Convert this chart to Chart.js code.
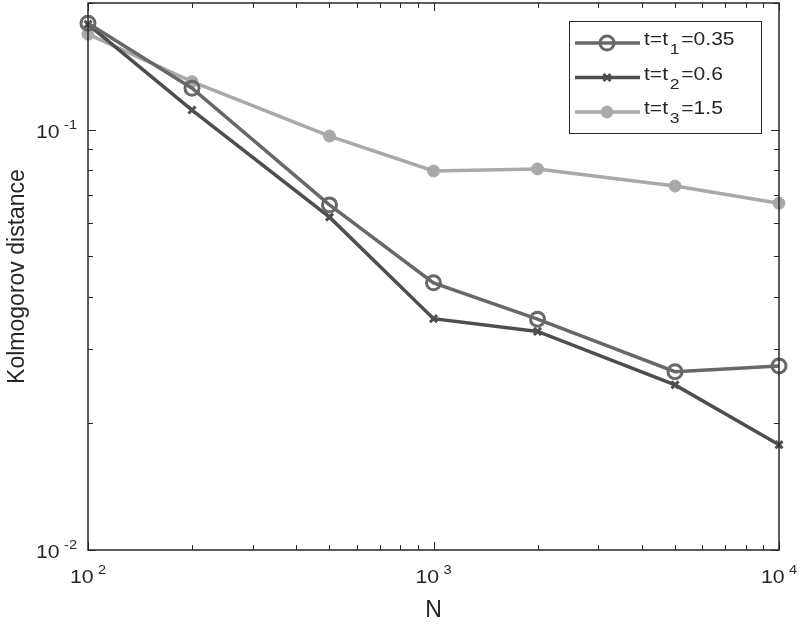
<!DOCTYPE html>
<html>
<head>
<meta charset="utf-8">
<script src="https://cdn.jsdelivr.net/npm/chart.js@4"></script>
<style>
  html, body { margin: 0; padding: 0; background: #fff; }
  #wrap { width: 800px; height: 625px; }
</style>
</head>
<body>
<div id="wrap"><canvas id="chart" width="800" height="625"></canvas></div>
<script>
// sample sizes and Kolmogorov distances
const nValues = [100, 200, 500, 1000, 2000, 5000, 10000]
const distT1 = [0.179, 0.1254, 0.0662, 0.0432, 0.0354, 0.02655, 0.0274]
const distT2 = [0.178, 0.1113, 0.0619, 0.0355, 0.0331, 0.0247, 0.0178]
const distT3 = [0.1686, 0.130, 0.0965, 0.0797, 0.0806, 0.0734, 0.0668]
const legendLabels = ["t=t_1=0.35", "t=t_2=0.6", "t=t_3=1.5"]
const xTickPowers = [2, 3, 4]
const yTickPowers = [-2, -1]

const FONT = "'Liberation Sans', Arial, Helvetica, sans-serif"
const INK = "#262626"

const toPoints = (ys) => nValues.map((n, i) => ({ x: n, y: ys[i] }))

// "10" with a raised exponent (slightly widened, as in the original)
function drawPower(ctx, exp, x, y, align) {
  const base = "10", sup = String(exp)
  const sx = 1.12
  ctx.font = "19px " + FONT
  const wb = ctx.measureText(base).width
  ctx.font = "13px " + FONT
  const ws = ctx.measureText(sup).width
  const gap = 4
  const total = (wb + gap + ws) * sx
  let x0 = x
  if (align === "right") x0 = x - total
  else if (align === "center") x0 = x - total / 2
  ctx.save()
  ctx.translate(x0, y)
  ctx.scale(sx, 1)
  ctx.fillStyle = INK
  ctx.textAlign = "left"
  ctx.textBaseline = "alphabetic"
  ctx.font = "19px " + FONT
  ctx.fillText(base, 0, 0)
  ctx.font = "13px " + FONT
  ctx.fillText(sup, wb + gap, -9)
  ctx.restore()
}

// legend text with "_n" as subscript, a bit wider like the original
function drawSubText(ctx, label, x, y) {
  const m = label.match(/^(.*)_(\w)(.*)$/)
  ctx.save()
  ctx.translate(x, y)
  ctx.scale(1.17, 1)
  ctx.fillStyle = INK
  ctx.textAlign = "left"
  ctx.textBaseline = "alphabetic"
  ctx.font = "18px " + FONT
  if (!m) { ctx.fillText(label, 0, 0); ctx.restore(); return }
  ctx.fillText(m[1], 0, 0)
  let cx = ctx.measureText(m[1]).width + 1.5
  ctx.font = "15px " + FONT
  ctx.fillText(m[2], cx, 9)
  cx += ctx.measureText(m[2]).width + 1.5
  ctx.font = "18px " + FONT
  ctx.fillText(m[3], cx, 0)
  ctx.restore()
}

const matlabFrame = {
  id: "matlabFrame",
  afterDraw(chart) {
    const { ctx, chartArea: a, scales } = chart
    const xs = scales.x, ys = scales.y
    ctx.save()

    // box
    ctx.strokeStyle = INK
    ctx.lineWidth = 1.5
    ctx.strokeRect(a.left, a.top, a.right - a.left, a.bottom - a.top)

    // inward ticks, x
    ctx.lineWidth = 1
    ctx.beginPath()
    for (let p = xTickPowers[0]; p <= xTickPowers[xTickPowers.length - 1]; p++) {
      for (let k = 1; k <= 9; k++) {
        const v = k * Math.pow(10, p)
        if (v < xs.min || v > xs.max) continue
        const px = Math.round(xs.getPixelForValue(v)) + 0.5
        const len = k === 1 ? 8 : 5
        ctx.moveTo(px, a.bottom); ctx.lineTo(px, a.bottom - len)
        ctx.moveTo(px, a.top); ctx.lineTo(px, a.top + len)
      }
    }
    // inward ticks, y
    for (let p = yTickPowers[0]; p <= yTickPowers[yTickPowers.length - 1]; p++) {
      for (let k = 1; k <= 9; k++) {
        const v = k * Math.pow(10, p)
        if (v < ys.min - 1e-9 || v > ys.max + 1e-9) continue
        const py = Math.round(ys.getPixelForValue(v)) + 0.5
        const len = k === 1 ? 8 : 5
        ctx.moveTo(a.left, py); ctx.lineTo(a.left + len, py)
        ctx.moveTo(a.right, py); ctx.lineTo(a.right - len, py)
      }
    }
    ctx.stroke()

    // tick labels
    xTickPowers.forEach((p) => {
      drawPower(ctx, p, xs.getPixelForValue(Math.pow(10, p)), a.bottom + 33, "center")
    })
    yTickPowers.forEach((p) => {
      drawPower(ctx, p, a.left - 11, ys.getPixelForValue(Math.pow(10, p)) + 8, "right")
    })

    // axis titles
    ctx.fillStyle = INK
    ctx.font = "23px " + FONT
    ctx.textAlign = "center"
    ctx.textBaseline = "alphabetic"
    ctx.fillText("N", (a.left + a.right) / 2, 617)
    ctx.save()
    ctx.translate(24, (a.top + a.bottom) / 2)
    ctx.rotate(-Math.PI / 2)
    ctx.fillText("Kolmogorov distance", 0, 0)
    ctx.restore()

    // legend
    const lx = 569, ly = 21, lw = 192, lh = 112
    ctx.fillStyle = "#fff"
    ctx.fillRect(lx, ly, lw, lh)
    ctx.strokeStyle = INK
    ctx.lineWidth = 1
    ctx.strokeRect(lx + 0.5, ly + 0.5, lw, lh)
    chart.data.datasets.forEach((ds, i) => {
      const y = 43 + i * 34.5
      ctx.strokeStyle = ds.borderColor
      ctx.lineWidth = ds.borderWidth
      ctx.beginPath()
      ctx.moveTo(575, y); ctx.lineTo(640, y)
      ctx.stroke()
      ctx.fillStyle = ds.pointBackgroundColor
      ctx.strokeStyle = ds.pointBorderColor
      ctx.lineWidth = ds.pointBorderWidth
      Chart.helpers.drawPoint(ctx, {
        pointStyle: ds.pointStyle,
        radius: ds.pointRadius,
        borderWidth: ds.pointBorderWidth
      }, 607, y)
      drawSubText(ctx, legendLabels[i], 644, y + 2)
    })
    ctx.restore()
  }
}

new Chart(document.getElementById("chart"), {
  type: "line",
  data: {
    datasets: [
      {
        label: legendLabels[0],
        data: toPoints(distT1),
        borderColor: "#686868",
        borderWidth: 3.5,
        pointStyle: "circle",
        pointRadius: 7,
        pointBorderWidth: 3,
        pointBorderColor: "#686868",
        pointBackgroundColor: "rgba(0,0,0,0)",
        clip: false
      },
      {
        label: legendLabels[1],
        data: toPoints(distT2),
        borderColor: "#4e4e4e",
        borderWidth: 3.5,
        pointStyle: "crossRot",
        pointRadius: 5,
        pointBorderWidth: 3,
        pointBorderColor: "#4e4e4e",
        pointBackgroundColor: "#4e4e4e",
        clip: false
      },
      {
        label: legendLabels[2],
        data: toPoints(distT3),
        borderColor: "#a9a9a9",
        borderWidth: 3.5,
        pointStyle: "circle",
        pointRadius: 6,
        pointBorderWidth: 1,
        pointBorderColor: "#a9a9a9",
        pointBackgroundColor: "#a9a9a9",
        clip: false
      }
    ]
  },
  options: {
    responsive: false,
    animation: false,
    layout: { autoPadding: false, padding: { left: 88, right: 21, top: 3, bottom: 75 } },
    plugins: { legend: { display: false }, tooltip: { enabled: false } },
    elements: { line: { tension: 0 } },
    scales: {
      x: {
        type: "logarithmic",
        min: 100,
        max: 10000,
        grid: { display: false, drawTicks: false },
        border: { display: false },
        ticks: { display: false }
      },
      y: {
        type: "logarithmic",
        min: 0.01,
        max: 0.2,
        grid: { display: false, drawTicks: false },
        border: { display: false },
        ticks: { display: false }
      }
    }
  },
  plugins: [matlabFrame]
})
</script>
</body>
</html>
